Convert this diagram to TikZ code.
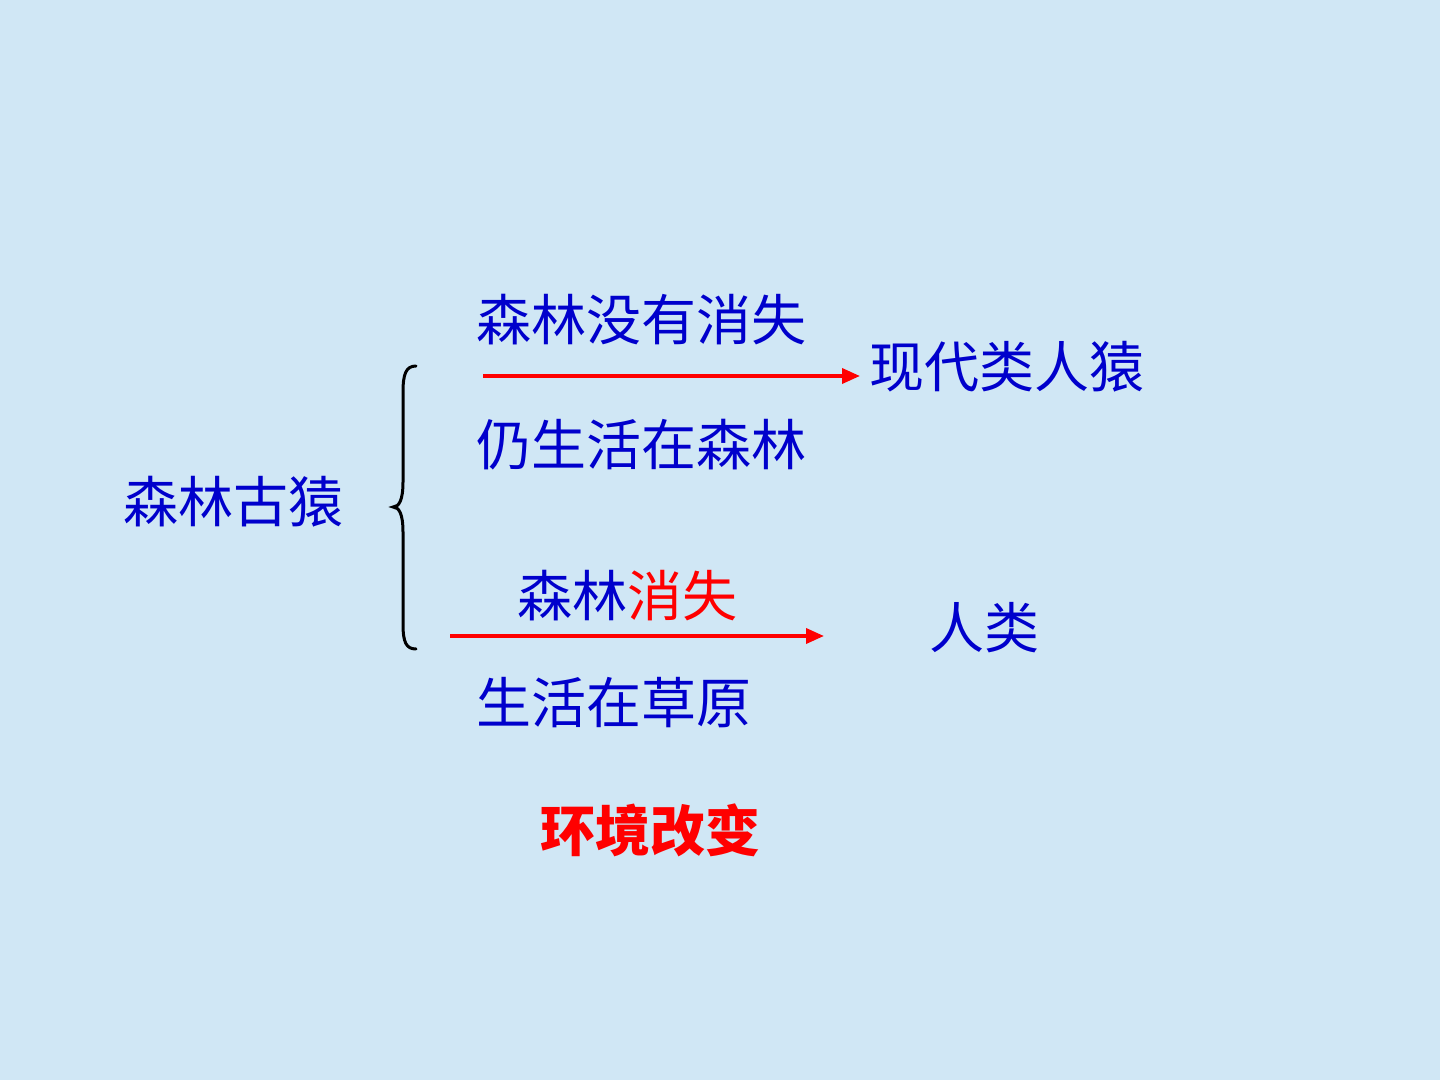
\documentclass[tikz,border=0pt]{standalone}
\usepackage{fontspec}
\setmainfont{Noto Sans CJK SC}
\usetikzlibrary{arrows.meta}
\definecolor{bg}{RGB}{208,231,245}
\definecolor{tblue}{RGB}{0,0,204}
\definecolor{tred}{RGB}{255,0,0}
\tikzset{
  lbl/.style={anchor=west, inner sep=0pt, text=tblue, font=\fontsize{27.5}{33}\selectfont},
  redlbl/.style={lbl, text=tred, font=\fontsize{27.5}{33}\selectfont\bfseries},
  evo/.style={draw=tred, line width=1.8pt, -{Triangle[length=9pt,width=7.5pt]}},
  bracestyle/.style={draw=black, line width=1.5pt, line cap=round}
}
\begin{document}
\begin{tikzpicture}[x=0.5pt,y=-0.5pt]
  \fill[bg] (0,0) rectangle (1440,1080);
  \useasboundingbox (0,0) rectangle (1440,1080);
  \node[lbl] (a) at (476,320) {森林没有消失};
  \node[lbl] (b) at (476,445) {仍生活在森林};
  \node[lbl] (ape) at (869,367) {现代类人猿};
  \node[lbl] (root) at (123,502) {森林古猿};
  \node[lbl] (c) at (517,596) {森林\textcolor{tred}{消失}};
  \node[lbl] (d) at (476,703) {生活在草原};
  \node[lbl] (man) at (929,628) {人类};
  \node[redlbl] (env) at (540,830) {环境改变};
  \coordinate (a1s) at (483,376);
  \coordinate (a1e) at (860,376);
  \coordinate (a2s) at (450,636);
  \coordinate (a2e) at (824,636);
  \draw[evo] (a1s) -- (a1e);
  \draw[evo] (a2s) -- (a2e);
  \draw[bracestyle] (416,366) .. controls (406,366) and (403,374) .. (403,392)
    -- (403,482) .. controls (403,500) and (399,507) .. (393,507)
    .. controls (399,507) and (403,514) .. (403,532)
    -- (403,624) .. controls (403,642) and (406,649) .. (416,649);
\end{tikzpicture}
\end{document}
